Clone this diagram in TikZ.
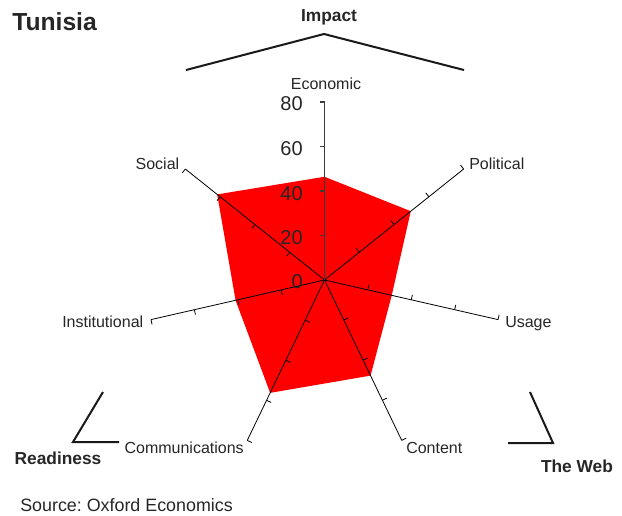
\documentclass[tikz,border=0pt]{standalone}
\usepackage{fontspec}
\setmainfont{Liberation Sans}
\frenchspacing
\definecolor{txt}{RGB}{38,38,38}
\definecolor{chartred}{RGB}{255,0,0}
\definecolor{axisgray}{RGB}{60,60,60}
\begin{document}
\begin{tikzpicture}[x=0.75pt,y=-0.75pt,
  lbl/.style={font=\fontsize{12}{14}\selectfont, text=txt, inner sep=0pt},
  num/.style={font=\fontsize{15}{18}\selectfont, text=txt, inner sep=0pt, anchor=base east},
  grp/.style={font=\bfseries\fontsize{13}{15}\selectfont, text=txt, inner sep=0pt, anchor=base},
  brk/.style={line width=1.5pt, black!90, line join=miter},
  spoke/.style={line width=0.6pt, black},
  mainaxis/.style={line width=1.2pt, axisgray},
  tk/.style={line width=0.6pt, black},
  maintk/.style={line width=0.9pt, axisgray}
]
\useasboundingbox (0,0) rectangle (622,515);

% radar part
\begin{scope}[shift={(324.5,280)}, yscale=-1]
  \coordinate (O) at (0,0);
  \foreach \nm/\ang/\val in {eco/90/46.4, pol/38.571/49.6, usa/-12.857/31, con/-64.286/47.7, com/-115.714/56.3, ins/-167.143/41, soc/141.429/61.7}{
    \coordinate (v-\nm) at (\ang:{\val*2.225});
    \coordinate (e-\nm) at (\ang:178);
  }
  \fill[chartred] (v-eco) -- (v-pol) -- (v-usa) -- (v-con) -- (v-com) -- (v-ins) -- (v-soc) -- cycle;
  \foreach \nm in {pol,usa,con,com,ins,soc}{
    \draw[spoke] (O) -- (e-\nm);
  }
  \foreach \ang in {38.571,-12.857,-64.286,-115.714,-167.143,141.429}{
    \foreach \k in {1,...,4}{
      \draw[tk] (\ang:{44.5*\k}) -- ++({\ang+90}:5);
    }
  }
  \draw[mainaxis] (O) -- (e-eco);
  \foreach \k in {1,...,4}{
    \draw[maintk] (90:{44.5*\k}) -- ++(180:5);
  }
\end{scope}

% scale numbers
\node[num] (n80) at (303,110.5) {80};
\node[num] (n60) at (303,155.5) {60};
\node[num] (n40) at (303,200) {40};
\node[num] (n20) at (303,244) {20};
\node[num] (n0)  at (303,288) {0};

% axis labels
\node[lbl, anchor=base] (leco) at (326,89.5) {Economic};
\node[lbl, anchor=base west] (lpol) at (469,169.5) {Political};
\node[lbl, anchor=base west] (lusa) at (505,327) {Usage};
\node[lbl, anchor=base west] (lcon) at (406,453) {Content};
\node[lbl, anchor=base east] (lcom) at (244,453) {Communications};
\node[lbl, anchor=base east] (lins) at (143.5,327) {Institutional};
\node[lbl, anchor=base east] (lsoc) at (179.5,169.5) {Social};

% group brackets
\coordinate (ia) at (186,70);
\coordinate (ib) at (324,34);
\coordinate (ic) at (464,70);
\draw[brk] (ia) -- (ib) -- (ic);
\coordinate (ra) at (103,392);
\coordinate (rb) at (73,442);
\coordinate (rc) at (119,442);
\draw[brk] (ra) -- (rb) -- (rc);
\coordinate (wa) at (530,392);
\coordinate (wb) at (553,443);
\coordinate (wc) at (508,443);
\draw[brk] (wa) -- (wb) -- (wc);

% titles
\node[font=\bfseries\fontsize{18.5}{21}\selectfont, text=txt, inner sep=0pt, anchor=base west] (title) at (12,30) {Tunisia};
\node[grp] (impact) at (329,21) {Impact};
\node[grp] (readiness) at (58,464) {Readiness};
\node[grp] (web) at (577,472) {The Web};
\node[font=\fontsize{13.4}{16}\selectfont, text=txt, inner sep=0pt, anchor=base west] (src) at (20,511) {Source: Oxford Economics};
\end{tikzpicture}
\end{document}
